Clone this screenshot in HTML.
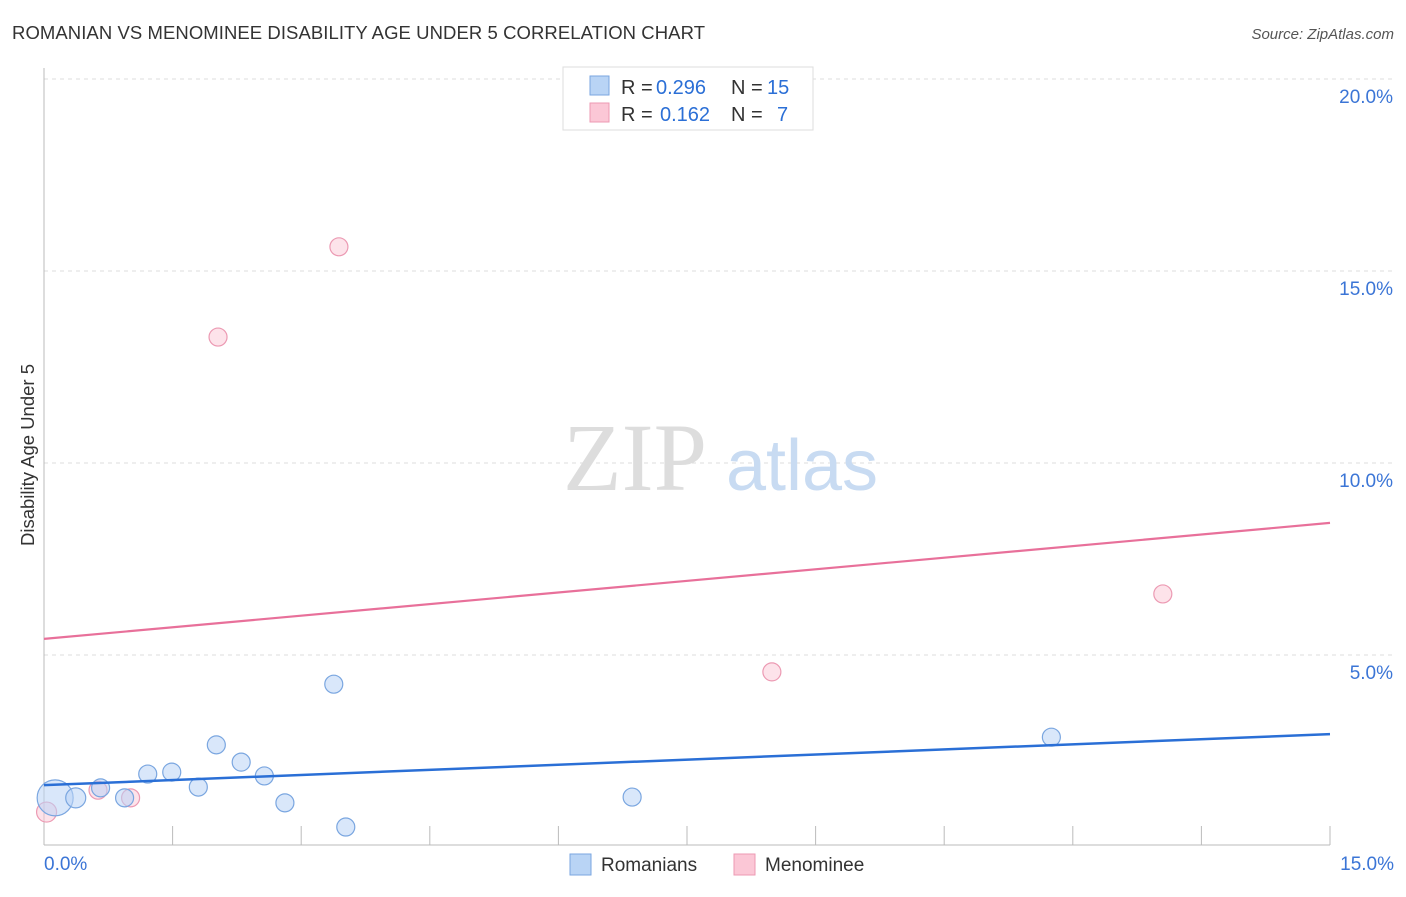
<!DOCTYPE html>
<html><head><meta charset="utf-8"><style>
body{margin:0;background:#fff;font-family:"Liberation Sans",sans-serif;}
</style></head><body>
<svg width="1406" height="892" xmlns="http://www.w3.org/2000/svg" style="font-family:'Liberation Sans',sans-serif">
<text x="12" y="39" font-size="18.5" fill="#333" textLength="693">ROMANIAN VS MENOMINEE DISABILITY AGE UNDER 5 CORRELATION CHART</text>
<text x="1394" y="39" font-size="15" fill="#555" text-anchor="end" font-style="italic">Source: ZipAtlas.com</text>
<g id="grid"></g>
<text x="635" y="490" font-size="96" fill="#ddd" font-family="Liberation Serif" text-anchor="middle">ZIP</text>
<text x="802" y="490" font-size="72" fill="#c8dbf2" text-anchor="middle">atlas</text>
<text transform="translate(34,455) rotate(-90)" font-size="18.5" fill="#333" text-anchor="middle">Disability Age Under 5</text>
<g id="marks"></g>
<g>
<rect x="563" y="67" width="250" height="63" fill="#fff" stroke="#ddd"/>
<rect x="590" y="76" width="19" height="19" fill="#b9d4f5" stroke="#7aa6e0"/>
<rect x="590" y="103" width="19" height="19" fill="#fbc7d6" stroke="#ec9ab3"/>
<g font-size="20" fill="#333">
<text x="621" y="94">R =</text>
<text x="656" y="94" fill="#2b6fd6">0.296</text>
<text x="731" y="94">N =</text>
<text x="767" y="94" fill="#2b6fd6">15</text>
<text x="621" y="121">R =</text>
<text x="660" y="121" fill="#2b6fd6">0.162</text>
<text x="731" y="121">N =</text>
<text x="777" y="121" fill="#2b6fd6">7</text>
</g>
</g>
<g>
<rect x="570" y="854" width="21" height="21" fill="#b9d4f5" stroke="#7aa6e0"/>
<text x="601" y="871" font-size="19" fill="#333">Romanians</text>
<rect x="734" y="854" width="21" height="21" fill="#fbc7d6" stroke="#ec9ab3"/>
<text x="765" y="871" font-size="19" fill="#333">Menominee</text>
</g>
</svg>
<script>
const yTicks=[5,10,15,20];
const yTickLabels=["5.0%","10.0%","15.0%","20.0%"];
const xTickLabels=["0.0%","15.0%"];
const romX=[0.13,0.37,0.66,0.94,1.21,1.49,1.80,2.01,2.30,2.57,2.81,3.38,3.52,6.86,11.75];
const romY=[1.28,1.28,1.54,1.28,1.90,1.95,1.56,2.66,2.21,1.85,1.15,4.24,0.52,1.30,2.86];
const romR=[18,10,9,9,9,9,9,9,9,9,9,9,9,9,9];
const menX=[0.03,0.63,1.01,2.03,3.44,8.49,13.05];
const menY=[0.91,1.48,1.28,13.28,15.63,4.56,6.59];
const menR=[10,9,9,9,9,9,9];
const romLine=[1.61,2.94];
const menLine=[5.42,8.44];
const NS="http://www.w3.org/2000/svg";
const xs=v=>44+v/15*1286, ys=v=>847-v/5*192;
function mk(t,a,p){const e=document.createElementNS(NS,t);for(const k in a)e.setAttribute(k,a[k]);p.appendChild(e);return e;}
const g=document.getElementById('grid'), m=document.getElementById('marks');
yTicks.forEach((t,i)=>{
 const l=mk('line',{x1:44,x2:1394,y1:ys(t),y2:ys(t),stroke:'#ddd','stroke-dasharray':'4,4'},g);
 
 
 const tx=mk('text',{x:1393,y:ys(t)+24,'font-size':19,fill:'#3b75d6','text-anchor':'end'},g);
 tx.textContent=yTickLabels[i];
 
 
});
const ax=mk('line',{x1:44,x2:1330,y1:845,y2:845,stroke:'#bbb'},g);


const ay=mk('line',{x1:44,x2:44,y1:68,y2:845,stroke:'#bbb'},g);


for(let i=1;i<=10;i++){const t=mk('line',{x1:xs(i*1.5),x2:xs(i*1.5),y1:826,y2:845,stroke:'#bbb'},g);
 
 }
[[0,'start',44],[15,'end',1394]].forEach(([v,a,x],i)=>{const t=mk('text',{x:x,y:870,'font-size':19,fill:'#3b75d6','text-anchor':a},g);t.textContent=xTickLabels[i];
 
 });
menX.forEach((x,i)=>{const c=mk('circle',{cx:xs(x),cy:ys(menY[i]),r:menR[i],fill:'rgba(251,199,214,0.5)',stroke:'#ec9ab3','stroke-width':1.2},m);
 
 });
romX.forEach((x,i)=>{const c=mk('circle',{cx:xs(x),cy:ys(romY[i]),r:romR[i],fill:'rgba(185,212,245,0.55)',stroke:'#7aa6e0','stroke-width':1.2},m);
 
 });
const l1=mk('line',{x1:xs(0),x2:xs(15),y1:ys(romLine[0]),y2:ys(romLine[1]),stroke:'#2a6fd6','stroke-width':2.5},m);


const l2=mk('line',{x1:xs(0),x2:xs(15),y1:ys(menLine[0]),y2:ys(menLine[1]),stroke:'#e8709a','stroke-width':2.2},m);


</script>
</body></html>
